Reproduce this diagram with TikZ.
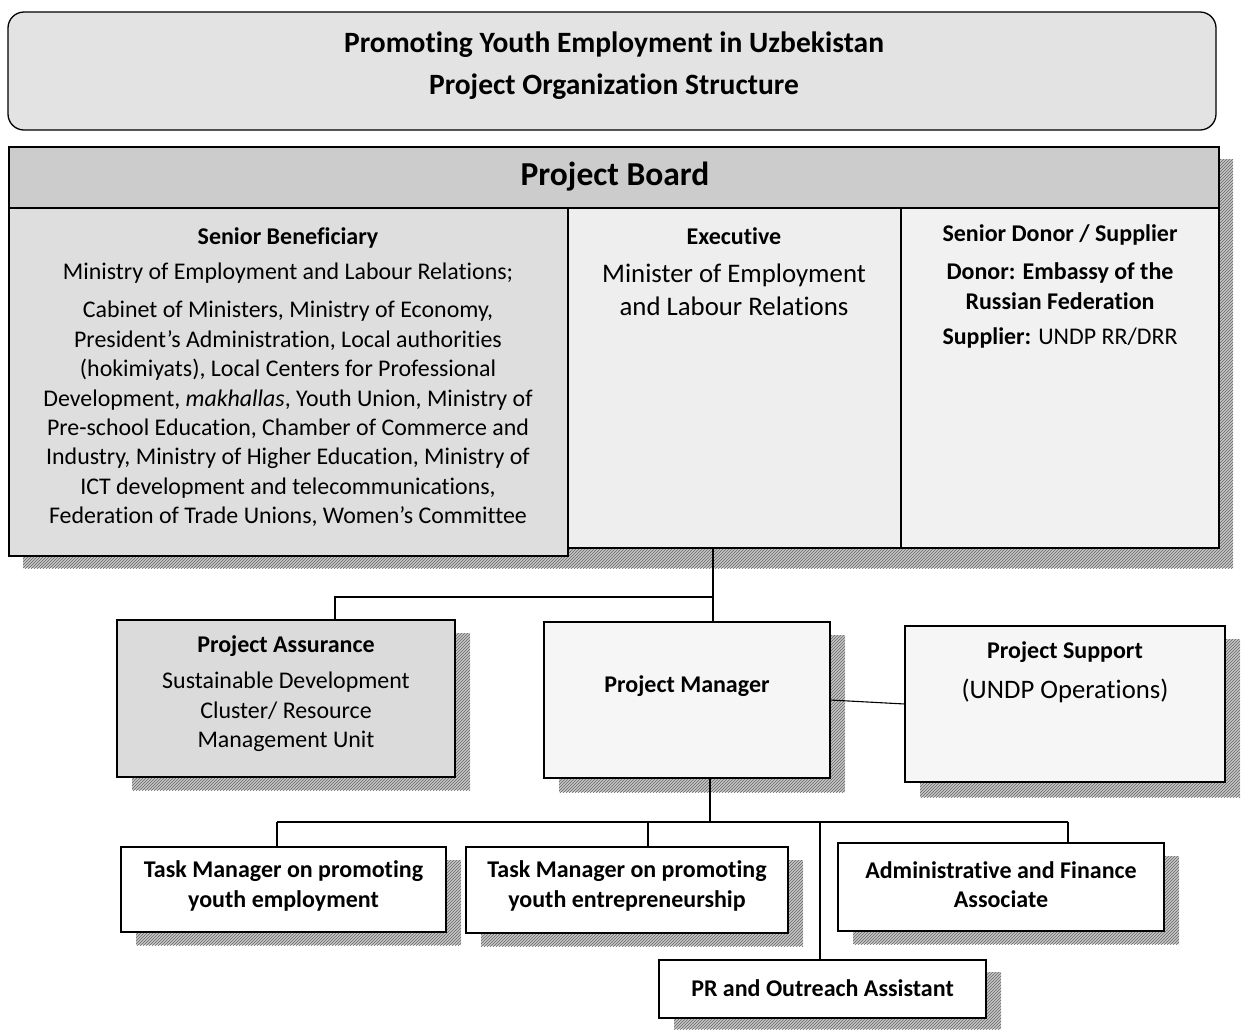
\documentclass[tikz,border=0pt]{standalone}
\usepackage{fontspec}
\setmainfont{Carlito}[Ligatures=NoCommon]
\usetikzlibrary{patterns}
\begin{document}
\begin{tikzpicture}[x=1pt,y=-1pt,
  box/.style={draw=black,line width=1.3pt,inner sep=0pt,outer sep=0pt},
  shad/.style={preaction={fill=gray!45},pattern=north east lines,pattern color=gray!80!black},
  txt/.style={align=center,inner sep=0pt,text=black},
  bodyf/.style={font={\fontsize{23.9}{29.4}\selectfont}},
  boldf/.style={font={\fontsize{24}{29.4}\selectfont\bfseries}},
  line/.style={draw=black,line width=1.1pt}]
\useasboundingbox (0,0) rectangle (1246,1029);
\fill[white] (0,0) rectangle (1246,1029);

% title
\node[box,fill=gray!22,rounded corners=16pt,minimum width=1208,minimum height=118] (title) at (612,71) {};
\node[txt,font={\fontsize{29.5}{42}\selectfont\bfseries}] (titletxt) at (614,66) {Promoting Youth Employment in Uzbekistan\\Project Organization Structure};

% board shadow
\path[shad] (23,159) rectangle (1233,568);
\node[box,fill=gray!40,minimum width=1210,minimum height=61] (hdr) at (614,177.5) {};
\node[box,fill=gray!26,minimum width=559,minimum height=348] (ben) at (288.5,382) {};
\node[box,fill=gray!13,minimum width=333,minimum height=340] (exe) at (734.5,378) {};
\node[box,fill=gray!11,minimum width=318,minimum height=340] (don) at (1060,378) {};
\node[txt,font={\fontsize{33.5}{36}\selectfont\bfseries}] (hdrtxt) at (615,177) {Project Board};

\node[txt,boldf] (bent) at (288,238) {Senior Beneficiary};
\node[txt,bodyf] (ben1) at (288,273) {Ministry of Employment and Labour Relations;};
\node[txt,bodyf] (ben2) at (288,414) {Cabinet of Ministers, Ministry of Economy,\\President’s Administration, Local authorities\\(hokimiyats), Local Centers for Professional\\Development, \textit{makhallas}, Youth Union, Ministry of\\Pre-school Education, Chamber of Commerce and\\Industry, Ministry of Higher Education, Ministry of\\ICT development and telecommunications,\\Federation of Trade Unions, Women’s Committee};

\node[txt,boldf] (exet) at (734,236) {Executive};
\node[txt,font={\fontsize{26.8}{33}\selectfont}] (exe1) at (734,290) {Minister of Employment\\and Labour Relations};

\node[txt,boldf] (dont) at (1060,235) {Senior Donor / Supplier};
\node[txt,boldf] (don1) at (1060,286) {Donor: Embassy of the\\Russian Federation};
\node[txt,bodyf] (don2) at (1060,338) {\textbf{Supplier:} UNDP RR/DRR};

% middle row
\path[shad] (132,633) rectangle (470,790);
\node[box,fill=gray!28,minimum width=338,minimum height=157] (pa) at (286,698.5) {};
\path[shad] (559,635) rectangle (845,792);
\node[box,fill=gray!7,minimum width=286,minimum height=156] (pm) at (687,700) {};
\path[shad] (920,639) rectangle (1240,797);
\node[box,fill=gray!7,minimum width=320,minimum height=156] (ps) at (1065,704) {};

\node[txt,boldf] (pat) at (286,646) {Project Assurance};
\node[txt,bodyf] (pa1) at (286,712) {Sustainable Development\\Cluster/ Resource\\Management Unit};
\node[txt,boldf] (pmt) at (687,686) {Project Manager};
\node[txt,boldf] (pst) at (1065,652) {Project Support};
\node[txt,font={\fontsize{26.7}{30}\selectfont}] (ps1) at (1065,691) {(UNDP Operations)};

% bottom row
\path[shad] (136,860) rectangle (461,945);
\node[box,fill=white,minimum width=325,minimum height=85] (tm1) at (283.5,889.5) {};
\path[shad] (481,860) rectangle (803,946);
\node[box,fill=white,minimum width=322,minimum height=86] (tm2) at (627,890) {};
\path[shad] (853,856) rectangle (1179,944);
\node[box,fill=white,minimum width=326,minimum height=88] (adm) at (1001,887) {};
\path[shad] (674,972) rectangle (1001,1029);
\node[box,fill=white,minimum width=327,minimum height=58] (pr) at (822.5,989) {};

\node[txt,boldf] (tm1t) at (283.5,886) {Task Manager on promoting\\youth employment};
\node[txt,boldf] (tm2t) at (627,886) {Task Manager on promoting\\youth entrepreneurship};
\node[txt,boldf] (admt) at (1001,884.5) {Administrative and Finance\\Associate};
\node[txt,boldf] (prt) at (822.5,988) {PR and Outreach Assistant};

% connectors
\coordinate (j1) at (713,597);
\coordinate (j2) at (335,597);
\draw[line] (exe.south -| j1) -- (pm.north -| j1);
\draw[line] (j1) -- (j2) -- (pa.north -| j2);
\draw[line] (pm.east) -- (ps.west);

\coordinate (k0) at (710,822);
\coordinate (k1) at (277,822);
\coordinate (k2) at (648,822);
\coordinate (k3) at (820,822);
\coordinate (k4) at (1068,822);
\draw[line] (pm.south -| k0) -- (k0);
\draw[line] (k1) -- (k4);
\draw[line] (k1) -- (tm1.north -| k1);
\draw[line] (k2) -- (tm2.north -| k2);
\draw[line] (k3) -- (pr.north -| k3);
\draw[line] (k4) -- (adm.north -| k4);
\end{tikzpicture}
\end{document}
